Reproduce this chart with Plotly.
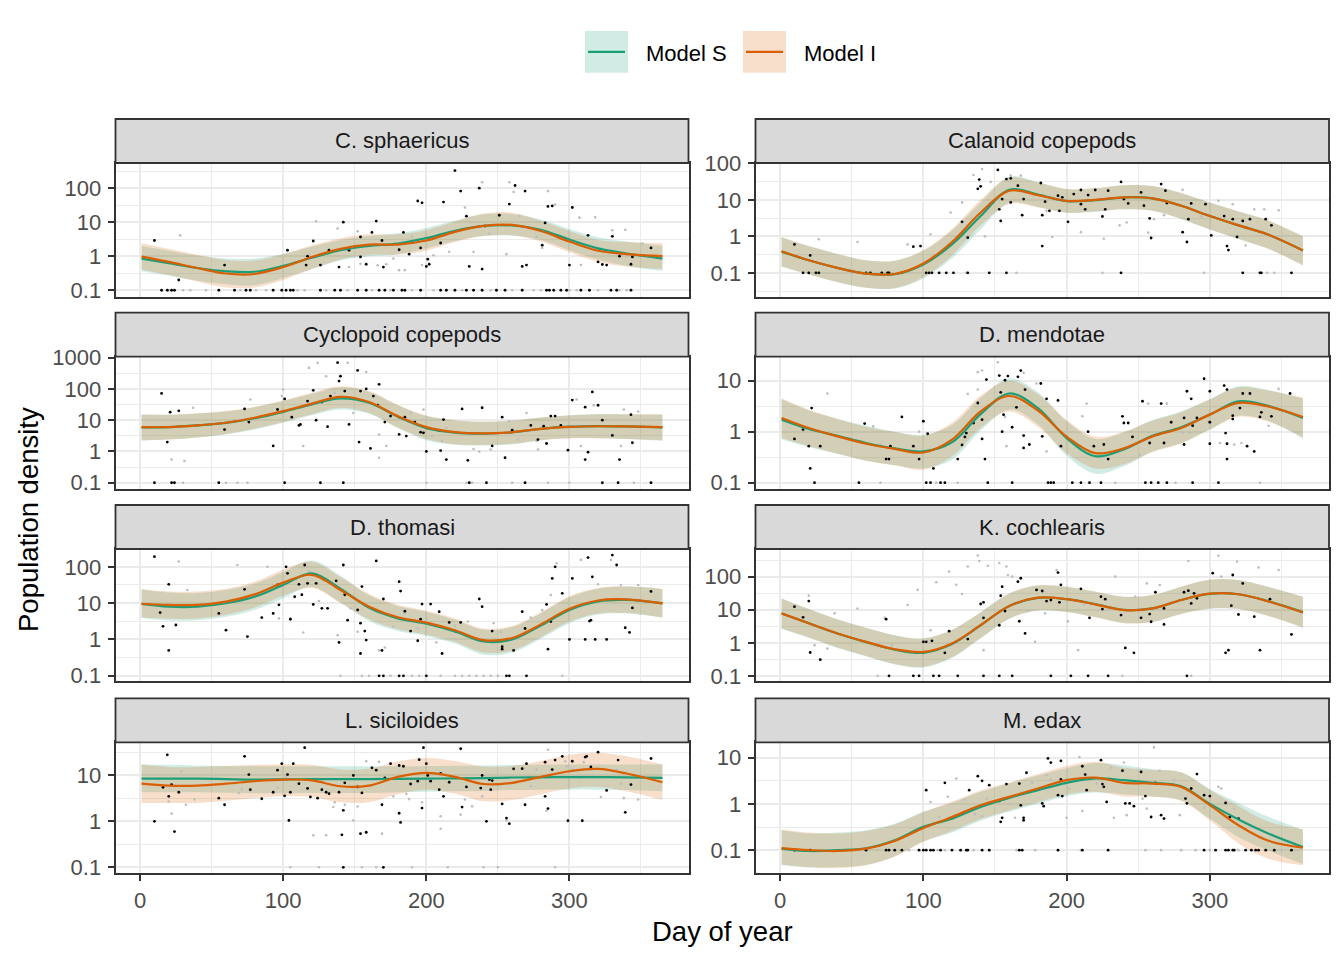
import plotly.graph_objects as go

days = [1, 20, 40, 60, 80, 100, 120, 140, 160, 180, 200, 220, 240, 260, 280, 300, 320, 340, 365]

panel_names = ["C. sphaericus", "Calanoid copepods", "Cyclopoid copepods", "D. mendotae",
               "D. thomasi", "K. cochlearis", "L. siciloides", "M. edax"]

# ---- C. sphaericus
csph_s_fit = [0.85, 0.62, 0.45, 0.36, 0.35, 0.52, 0.9, 1.5, 2.0, 2.35, 3.4, 5.6, 7.8, 8.0, 6.0, 3.1, 1.7, 1.2, 0.85]
csph_s_lo = [0.36, 0.27, 0.19, 0.15, 0.14, 0.23, 0.42, 0.75, 1.0, 1.15, 1.7, 2.8, 3.9, 4.0, 3.0, 1.5, 0.8, 0.52, 0.37]
csph_s_hi = [2.0, 1.45, 1.05, 0.85, 0.85, 1.18, 1.9, 3.0, 3.9, 4.7, 6.8, 11, 17, 17.5, 12, 6.3, 3.6, 2.7, 2.0]
csph_i_fit = [0.97, 0.68, 0.45, 0.31, 0.30, 0.48, 0.95, 1.65, 2.2, 2.2, 2.9, 5.2, 7.8, 8.3, 5.5, 2.7, 1.45, 1.15, 1.0]
csph_i_lo = [0.4, 0.28, 0.18, 0.12, 0.12, 0.2, 0.42, 0.8, 1.1, 1.1, 1.45, 2.6, 3.9, 4.1, 2.7, 1.3, 0.68, 0.5, 0.42]
csph_i_hi = [2.4, 1.65, 1.1, 0.78, 0.75, 1.15, 2.1, 3.4, 4.4, 4.4, 5.8, 10.4, 18, 19, 11, 5.5, 3.0, 2.6, 2.4]
csph_black = [(10, 2.9), (27, 0.2), (59, 0.55), (103, 1.5), (121, 2.8), (117, 1.0), (116, 0.55), (126, 0.55),
              (132, 1.5), (139, 0.48), (142, 10), (146, 1.5), (154, 0.95), (154, 3.7), (158, 0.58), (162, 5),
              (165, 10.8), (169, 2.9), (170, 0.48), (181, 1.55), (184, 5), (188, 1.15), (194, 42), (197, 37),
              (196, 1.75), (200, 0.5), (201, 0.82), (202, 0.58), (210, 2.45), (212, 39), (220, 330), (224, 82),
              (228, 15), (230, 0.5), (237, 100), (239, 0.42), (241, 7.7), (251, 16), (258, 34), (262, 120),
              (269, 82), (267, 0.5), (270, 0.55), (281, 2.1), (283, 9.5), (285, 29), (288, 30), (291, 4.1),
              (300, 0.55), (302, 27), (313, 4.1), (320, 0.68), (323, 0.57), (326, 0.55), (330, 3.85), (335, 1.0),
              (343, 0.58), (344, 0.95), (357, 1.75),
              (15, 0.1), (19, 0.1), (22, 0.1), (24, 0.1), (55, 0.1), (66, 0.1), (74, 0.1), (77, 0.1), (93, 0.1),
              (99, 0.1), (102, 0.1), (105, 0.1), (107, 0.1), (126, 0.1), (136, 0.1), (140, 0.1), (152, 0.1),
              (158, 0.1), (167, 0.1), (171, 0.1), (177, 0.1), (183, 0.1), (185, 0.1), (196, 0.1), (210, 0.1),
              (214, 0.1), (220, 0.1), (228, 0.1), (233, 0.1), (239, 0.1), (249, 0.1), (255, 0.1), (267, 0.1),
              (284, 0.1), (286, 0.1), (289, 0.1), (294, 0.1), (298, 0.1), (308, 0.1), (314, 0.1), (329, 0.1),
              (333, 0.1), (343, 0.1)]
csph_gray = [(28, 4.1), (123, 10.6), (138, 6.5), (152, 5.4), (146, 0.48), (154, 0.6), (166, 0.54), (172, 0.58),
             (177, 0.85), (181, 0.39), (185, 0.39), (190, 3.7), (197, 0.55), (205, 1.07), (216, 1.35), (227, 27),
             (233, 1.35), (239, 150), (244, 4.6), (256, 1.15), (258, 150), (261, 77), (265, 15.5), (277, 3.7),
             (281, 1.75), (285, 82), (290, 33), (307, 13.6), (308, 0.55), (318, 14), (330, 5.8), (339, 6),
             (351, 2.35),
             (20, 0.1), (30, 0.1), (35, 0.1), (46, 0.1), (70, 0.1), (81, 0.1), (88, 0.1), (110, 0.1), (115, 0.1),
             (130, 0.1), (145, 0.1), (162, 0.1), (175, 0.1), (190, 0.1), (205, 0.1), (225, 0.1), (245, 0.1),
             (260, 0.1), (275, 0.1), (280, 0.1), (300, 0.1), (305, 0.1), (320, 0.1), (335, 0.1), (340, 0.1)]

# ---- Calanoid copepods
cala_s_fit = [0.38, 0.22, 0.135, 0.095, 0.092, 0.17, 0.6, 3.6, 19, 14, 9.2, 9.8, 11.7, 11, 6.9, 3.6, 2.0, 1.14, 0.41]
cala_s_lo = [0.15, 0.09, 0.055, 0.039, 0.037, 0.07, 0.25, 1.55, 8.3, 6.4, 4.4, 4.7, 5.5, 5.0, 3.0, 1.55, 0.85, 0.47, 0.16]
cala_s_hi = [0.95, 0.54, 0.33, 0.22, 0.215, 0.4, 1.45, 8.4, 43, 31, 19.5, 20.5, 25, 24, 15.5, 8.5, 4.8, 2.8, 1.0]
cala_i_fit = [0.39, 0.22, 0.137, 0.095, 0.093, 0.18, 0.70, 4.5, 17.8, 13.5, 9.4, 10, 11.7, 11, 6.9, 3.6, 2.0, 1.14, 0.41]
cala_i_lo = [0.15, 0.09, 0.056, 0.039, 0.038, 0.075, 0.30, 2.0, 7.7, 6.2, 4.5, 4.8, 5.5, 5.0, 3.0, 1.55, 0.85, 0.47, 0.16]
cala_i_hi = [0.96, 0.54, 0.33, 0.22, 0.215, 0.42, 1.6, 10, 41, 30, 20, 21, 25, 24, 15.5, 8.5, 4.8, 2.8, 1.0]
cala_black = [(10, 0.6), (21, 0.3), (93, 0.52), (98, 0.54), (127, 2.5), (131, 0.92), (138, 20), (139, 36),
              (140, 23.5), (152, 66), (153, 5.5), (154, 2.65), (155, 10.5), (158, 37), (161, 39), (161, 8.5),
              (166, 24.5), (169, 3.8), (170, 10.5), (182, 29), (183, 0.54), (183, 3.8), (185, 8.9), (188, 5),
              (194, 13), (195, 5), (197, 11.7), (201, 2.5), (205, 14.4), (210, 18.6), (210, 7.6), (213, 5.5),
              (215, 13.5), (220, 18.6), (225, 3.5), (227, 5.5), (229, 17.8), (238, 31), (240, 10.5), (243, 8),
              (252, 16), (254, 6.9), (258, 3.1), (259, 0.9), (266, 27), (269, 17.8), (270, 8.2), (281, 1.3),
              (284, 0.7), (285, 2.95), (287, 8), (297, 7.6), (301, 1.06), (310, 3.6), (312, 0.54), (313, 0.42),
              (316, 2.95), (319, 0.96), (323, 2.65), (328, 2.95), (339, 2.95), (343, 2.0),
              (16, 0.1), (20, 0.1), (25, 0.1), (27, 0.1), (60, 0.1), (63, 0.1), (71, 0.1), (75, 0.1), (76, 0.1),
              (85, 0.1), (102, 0.1), (104, 0.1), (106, 0.1), (111, 0.1), (116, 0.1), (121, 0.1), (131, 0.1),
              (146, 0.1), (158, 0.1), (238, 0.1), (323, 0.1), (335, 0.1), (336, 0.1), (357, 0.1)]
cala_gray = [(27, 0.83), (54, 0.7), (89, 0.6), (105, 1.14), (119, 4.5), (127, 8.5), (135, 48), (141, 70),
             (143, 1.0), (146, 8), (147, 31), (161, 46), (168, 46), (190, 0.96), (186, 5), (210, 1.3),
             (226, 0.86), (237, 2), (242, 2.4), (257, 1.26), (261, 2.95), (268, 3.8), (281, 19), (294, 3.5),
             (306, 9.4), (316, 7.6), (325, 0.56), (331, 5.5), (338, 5.5), (348, 5.2),
             (50, 0.1), (66, 0.1), (90, 0.1), (130, 0.1), (165, 0.1), (225, 0.1), (296, 0.1), (340, 0.1), (345, 0.1)]

# ---- Cyclopoid copepods
cycl_s_fit = [5.9, 6.0, 6.8, 8.2, 11.5, 18.5, 32, 50, 36, 13, 5.6, 4.0, 3.7, 4.1, 5.3, 6.2, 6.5, 6.3, 5.9]
cycl_s_lo = [2.2, 2.4, 2.8, 3.5, 5.0, 8.3, 14.5, 22, 16, 5.6, 2.3, 1.65, 1.55, 1.7, 2.3, 2.7, 2.7, 2.5, 2.2]
cycl_s_hi = [15, 15, 16.5, 19, 26, 41, 70, 112, 80, 30, 13.5, 9.8, 8.8, 9.7, 12.3, 14.3, 15.7, 15.5, 15]
cycl_i_fit = [6.0, 6.0, 6.8, 8.3, 12, 19.5, 34, 56, 38, 13.5, 6.0, 4.15, 3.8, 4.15, 5.3, 6.1, 6.4, 6.3, 6.0]
cycl_i_lo = [2.3, 2.4, 2.8, 3.6, 5.3, 8.8, 15.5, 25, 17, 5.8, 2.5, 1.7, 1.6, 1.75, 2.3, 2.6, 2.6, 2.5, 2.3]
cycl_i_hi = [15.5, 15, 16.5, 19.5, 27, 43, 75, 122, 85, 31, 14, 10, 9, 9.8, 12.3, 14.2, 15.5, 15.5, 15.5]
cycl_black = [(15, 72), (19, 2.0), (21, 18), (27, 20), (59, 5.0), (73, 23), (76, 8.7), (93, 1.5), (96, 22),
              (101, 48), (106, 12.5), (111, 6.8), (112, 7.3), (117, 41), (121, 90), (123, 10), (127, 38),
              (131, 6.2), (133, 59), (138, 690), (139, 178), (140, 255), (143, 85), (146, 7.3), (152, 390),
              (153, 2), (154, 85), (158, 100), (161, 1.25), (163, 59), (166, 30), (167, 140), (171, 8.7),
              (175, 13.5), (181, 3.5), (185, 12.5), (186, 3.1), (192, 8.7), (196, 4.15), (198, 3.95), (200, 1.0),
              (209, 4.7), (210, 1.07), (212, 10.5), (214, 0.55), (225, 23), (229, 0.52), (239, 25), (246, 1.5),
              (253, 12.5), (255, 0.63), (260, 4.8), (273, 6.8), (278, 2.4), (282, 6.4), (284, 1.8), (287, 13.5),
              (290, 13.5), (294, 6.8), (299, 1.1), (302, 44), (311, 26), (311, 0.55), (313, 0.95), (316, 80),
              (320, 30), (323, 10), (330, 3.25), (335, 0.55), (343, 15), (344, 1.9),
              (10, 0.1), (22, 0.1), (24, 0.1), (55, 0.1), (101, 0.1), (126, 0.1), (142, 0.1), (230, 0.1),
              (242, 0.1), (269, 0.1), (323, 0.1), (334, 0.1), (357, 0.1)]
cycl_gray = [(22, 0.55), (31, 0.5), (37, 25), (77, 46), (99, 59), (100, 95), (114, 1.5), (118, 470), (124, 690),
             (130, 255), (136, 75), (145, 690), (149, 17), (158, 345), (167, 0.63), (167, 3.5), (172, 1.5),
             (189, 17), (198, 22), (204, 3.1), (211, 2.15), (214, 5.7), (233, 1.2), (237, 1.0), (245, 1.16),
             (258, 9.3), (264, 2.4), (270, 17), (277, 2.15), (278, 1.16), (305, 46), (308, 1.5), (317, 30),
             (336, 1.5), (338, 22), (348, 19),
             (30, 0.1), (60, 0.1), (68, 0.1), (75, 0.1), (200, 0.1), (228, 0.1), (232, 0.1), (260, 0.1),
             (285, 0.1), (300, 0.1), (345, 0.1)]

# ---- D. mendotae
dmen_s_fit = [1.72, 1.13, 0.83, 0.6, 0.47, 0.41, 0.62, 2.2, 5.6, 2.9, 0.75, 0.33, 0.45, 0.83, 1.22, 2.16, 3.95, 3.25, 1.86]
dmen_s_lo = [0.7, 0.5, 0.37, 0.27, 0.22, 0.19, 0.28, 1.05, 2.7, 1.4, 0.34, 0.15, 0.21, 0.41, 0.6, 1.1, 2.05, 1.65, 0.73]
dmen_s_hi = [4.3, 2.6, 1.8, 1.3, 1.0, 0.87, 1.35, 4.6, 11, 5.9, 1.6, 0.72, 0.96, 1.7, 2.5, 4.3, 7.8, 6.6, 4.5]
dmen_i_fit = [1.86, 1.18, 0.81, 0.58, 0.46, 0.39, 0.7, 2.5, 5.0, 2.6, 0.8, 0.38, 0.47, 0.81, 1.18, 2.16, 3.67, 3.15, 1.94]
dmen_i_lo = [0.75, 0.52, 0.37, 0.27, 0.22, 0.18, 0.33, 1.2, 2.5, 1.25, 0.38, 0.19, 0.23, 0.4, 0.58, 1.1, 1.95, 1.6, 0.78]
dmen_i_hi = [4.5, 2.7, 1.78, 1.25, 0.98, 0.84, 1.5, 5.1, 10, 5.4, 1.7, 0.8, 1.0, 1.65, 2.4, 4.3, 7.4, 6.5, 4.6]
dmen_black = [(10, 0.72), (16, 1.1), (20, 0.52), (21, 0.19), (22, 2.9), (28, 0.52), (59, 1.44), (74, 0.29),
              (76, 0.29), (77, 0.52), (85, 1.95), (93, 0.52), (97, 0.29), (100, 1.6), (103, 0.91), (107, 0.19),
              (124, 0.29), (127, 0.55), (130, 0.94), (129, 0.79), (135, 1.48), (138, 3.65), (141, 0.72),
              (141, 1.72), (143, 0.29), (144, 10.5), (153, 12.6), (154, 5.9), (155, 1.0), (156, 2.15), (157, 10.2),
              (159, 12.3), (162, 1.22), (165, 3), (166, 11.9), (168, 15.8), (170, 0.48), (170, 0.84), (171, 6.7),
              (174, 0.56), (182, 8.8), (183, 0.81), (186, 4.4), (194, 4.1), (196, 0.52), (215, 1.0), (219, 0.52),
              (226, 0.56), (229, 0.29), (239, 2.0), (240, 1.48), (243, 1.48), (246, 0.79), (253, 3.95), (258, 0.6),
              (266, 3.55), (268, 0.6), (273, 1.53), (282, 0.56), (282, 1.86), (284, 6.2), (287, 4.4), (288, 1.31),
              (291, 1.86), (296, 10.9), (300, 0.58), (300, 1.53), (300, 6.2), (310, 8.0), (311, 0.94), (312, 0.58),
              (312, 0.29), (312, 6.7), (316, 2.06), (316, 1.77), (321, 2.9), (323, 5.6), (326, 0.52), (328, 5.6),
              (331, 0.41), (335, 1.95), (336, 2.4), (343, 2.0), (356, 5.6),
              (24, 0.1), (55, 0.1), (102, 0.1), (105, 0.1), (112, 0.1), (115, 0.1), (145, 0.1), (162, 0.1),
              (187, 0.1), (189, 0.1), (191, 0.1), (204, 0.1), (210, 0.1), (216, 0.1), (224, 0.1), (255, 0.1),
              (259, 0.1), (264, 0.1), (270, 0.1), (288, 0.1), (306, 0.1)]
dmen_gray = [(33, 5.6), (65, 1.27), (70, 0.56), (97, 1.0), (131, 5.5), (138, 6.7), (138, 14.7), (141, 15.8),
             (152, 23), (157, 1.95), (158, 0.52), (170, 14.3), (179, 8.8), (186, 0.41), (211, 2.0), (214, 3.55),
             (251, 0.35), (257, 3.55), (270, 3.55), (281, 0.94), (286, 0.94), (299, 1.6), (300, 2.4), (307, 0.6),
             (317, 0.56), (322, 0.6), (341, 1.31), (348, 6.9),
             (70, 0.1), (109, 0.1), (124, 0.1), (234, 0.1), (276, 0.1), (335, 0.1)]

# ---- D. thomasi
dtho_s_fit = [9.5, 8.0, 8.0, 9.9, 15, 31.6, 66, 25, 7.4, 3.8, 2.7, 1.65, 0.88, 1.0, 2.4, 6.5, 11.2, 12.3, 9.8]
dtho_s_lo = [3.9, 3.3, 3.4, 4.2, 6.5, 13.5, 28, 10.5, 3.2, 1.7, 1.25, 0.77, 0.38, 0.44, 1.05, 2.8, 4.9, 5.2, 4.0]
dtho_s_hi = [24, 19.5, 19, 23, 34, 72, 150, 57, 16.5, 8.4, 5.8, 3.5, 1.85, 2.2, 5.3, 14.5, 25, 28.5, 24.5]
dtho_i_fit = [9.6, 8.9, 8.9, 11, 17.4, 36.7, 60, 23, 8.0, 4.1, 2.9, 1.8, 0.96, 1.1, 2.6, 7.0, 11.8, 12.7, 9.8]
dtho_i_lo = [4.0, 3.7, 3.8, 4.8, 7.6, 16, 26, 10, 3.6, 1.9, 1.35, 0.85, 0.44, 0.5, 1.15, 3.1, 5.2, 5.4, 4.0]
dtho_i_hi = [24, 21, 21, 25, 39, 83, 138, 52, 17.7, 9, 6.2, 3.8, 2.0, 2.35, 5.6, 15.5, 26, 29, 24.5]
dtho_black = [(10, 190), (20, 33), (20, 0.5), (14, 5.5), (16, 2.3), (25, 2.5), (55, 5.2), (60, 1.8), (75, 1.2),
              (73, 24), (85, 4.0), (93, 5.2), (96, 31.6), (97, 9), (102, 100), (103, 66), (105, 3.6), (108, 15),
              (111, 33), (113, 17), (115, 112), (117, 35), (121, 9.2), (123, 35), (127, 7.2), (131, 7.2),
              (137, 41), (139, 0.83), (142, 112), (143, 17), (145, 3.4), (152, 6.5), (154, 2.8), (154, 0.41),
              (155, 28.5), (157, 1.7), (158, 0.96), (165, 145), (169, 0.5), (170, 13), (181, 39), (182, 21.5),
              (185, 6), (189, 1.7), (194, 0.92), (196, 3.6), (197, 9.4), (203, 9.4), (209, 5.8), (211, 0.41),
              (216, 2.95), (220, 1.7), (224, 2.95), (237, 13), (239, 8), (246, 1.7), (253, 0.54), (253, 0.63),
              (261, 0.5), (267, 5.8), (269, 2.0), (284, 9.2), (285, 0.54), (287, 3.1), (288, 48), (290, 100),
              (295, 18.6), (300, 1.0), (302, 48), (311, 1.0), (313, 180), (314, 3.2), (315, 3.4), (316, 53),
              (318, 1.0), (326, 1.0), (330, 210), (333, 112), (339, 2.1), (342, 1.56), (344, 7.4), (357, 21),
              (167, 0.1), (170, 0.1), (181, 0.1), (184, 0.1), (200, 0.1), (256, 0.1), (258, 0.1), (270, 0.1)]
dtho_gray = [(27, 140), (33, 23), (68, 112), (89, 100), (97, 3.8), (105, 3.8), (114, 1.56), (118, 74), (125, 11.4),
             (128, 41), (138, 1.3), (147, 7.2), (152, 1.63), (167, 0.5), (171, 0.6), (177, 2.24), (185, 5.2),
             (194, 2.0), (200, 3.8), (207, 0.83), (220, 2.4), (229, 3.1), (247, 2.8), (252, 1.6), (273, 4.0),
             (281, 6.4), (287, 16.7), (291, 125), (308, 155), (320, 33), (329, 155), (336, 31.6), (348, 31.6),
             (140, 0.1), (155, 0.1), (160, 0.1), (175, 0.1), (190, 0.1), (195, 0.1), (210, 0.1), (220, 0.1),
             (225, 0.1), (230, 0.1), (235, 0.1), (240, 0.1), (245, 0.1), (250, 0.1), (295, 0.1)]

# ---- K. cochlearis
kcoc_s_fit = [7.7, 3.9, 1.92, 1.05, 0.62, 0.5, 0.92, 3.4, 13, 23, 21, 14.8, 9.9, 11.0, 19.8, 30.5, 29.5, 18.6, 8.5]
kcoc_s_lo = [2.6, 1.42, 0.7, 0.39, 0.22, 0.18, 0.35, 1.38, 5.4, 9.5, 8.6, 6.0, 4.0, 4.3, 7.5, 10.8, 10.5, 6.7, 2.9]
kcoc_s_hi = [22, 10.6, 5.2, 2.85, 1.7, 1.38, 2.45, 8.4, 31, 54, 50, 36, 25, 28, 50, 81, 80, 51, 25]
kcoc_i_fit = [7.8, 3.9, 1.92, 1.07, 0.64, 0.53, 0.96, 3.44, 13, 23.3, 21, 14.6, 9.8, 11.0, 19.8, 30.9, 29.5, 18.4, 8.3]
kcoc_i_lo = [2.7, 1.45, 0.72, 0.4, 0.23, 0.19, 0.37, 1.4, 5.4, 9.6, 8.6, 5.9, 3.9, 4.3, 7.5, 11, 10.5, 6.6, 2.85]
kcoc_i_hi = [22, 10.5, 5.1, 2.85, 1.68, 1.36, 2.5, 8.5, 31, 55, 50, 35, 25, 28, 50, 82, 80, 50, 25]
kcoc_black = [(10, 12.4), (16, 5.9), (20, 18.4), (21, 0.51), (28, 0.31), (74, 5.2), (100, 1.07), (102, 1.07),
              (106, 1.15), (115, 0.5), (118, 2.26), (131, 1.3), (140, 15), (142, 16.8), (142, 5.7), (153, 3.4),
              (154, 26.8), (155, 50), (157, 9.2), (166, 71), (167, 4.5), (168, 90), (171, 1.92), (179, 40),
              (183, 37), (186, 18.4), (189, 19.8), (194, 134), (195, 16.8), (196, 57), (210, 43), (216, 5.7),
              (224, 25), (225, 10.5), (227, 21), (238, 6.9), (241, 0.7), (247, 0.5), (252, 5.7), (258, 7.4),
              (259, 4.35), (262, 34), (268, 3.6), (268, 11), (282, 34), (285, 38), (287, 15.6), (289, 31.6),
              (291, 22.3), (302, 128), (311, 0.5), (313, 0.6), (315, 13.3), (316, 113), (320, 7.2), (323, 63),
              (331, 6.2), (335, 0.6), (342, 21), (357, 1.8),
              (76, 0.1), (93, 0.1), (97, 0.1), (107, 0.1), (111, 0.1), (124, 0.1), (142, 0.1), (153, 0.1),
              (162, 0.1), (189, 0.1), (203, 0.1), (215, 0.1), (229, 0.1), (284, 0.1)]
kcoc_gray = [(11, 5.5), (20, 26.8), (24, 0.85), (33, 0.67), (38, 7.8), (54, 11), (73, 5.7), (78, 0.85), (89, 14),
             (96, 40), (105, 2.4), (109, 68), (118, 143), (123, 57), (127, 30), (131, 205), (138, 440), (139, 300),
             (142, 0.6), (145, 215), (153, 260), (158, 205), (159, 113), (162, 101), (173, 9.2), (178, 1.07),
             (185, 7.8), (193, 160), (201, 4.5), (208, 0.6), (212, 14), (229, 11), (234, 101), (248, 25),
             (256, 63), (265, 56), (285, 300), (306, 430), (308, 101), (319, 290), (334, 190), (348, 160),
             (68, 0.1), (239, 0.1), (287, 0.1)]

# ---- L. siciloides
lsic_s_fit = [8.5, 8.5, 8.5, 8.3, 8.1, 8.2, 8.3, 8.3, 8.3, 8.4, 8.5, 8.6, 8.7, 9.0, 9.1, 9.2, 9.2, 9.1, 8.8]
lsic_s_lo = [4.3, 4.3, 4.3, 4.2, 4.1, 4.1, 4.15, 4.15, 4.15, 4.3, 4.4, 4.5, 4.6, 4.8, 4.9, 4.9, 4.9, 4.8, 4.5]
lsic_s_hi = [17.2, 17, 16.5, 16, 15.8, 15.8, 15.8, 15.8, 15.8, 15.8, 16, 16.2, 16.5, 16.8, 17, 17.2, 17.2, 17.2, 17.2]
lsic_i_fit = [6.6, 6.0, 6.0, 6.6, 7.5, 8.1, 7.8, 5.8, 6.0, 9.3, 11.4, 9.3, 6.5, 6.9, 9.3, 12.3, 13.8, 11, 7.1]
lsic_i_lo = [2.5, 2.5, 2.5, 2.8, 3.2, 3.5, 3.4, 2.6, 2.6, 3.9, 4.9, 4.0, 2.75, 2.9, 3.9, 5.2, 5.6, 4.5, 2.9]
lsic_i_hi = [17.2, 15.3, 15.3, 16, 17, 17.5, 17, 13.5, 14, 20, 24, 20.5, 15.6, 16, 20.5, 28, 31, 26, 17.2]
lsic_black = [(10, 1.0), (16, 5.5), (19, 28), (20, 3.5), (22, 6.3), (24, 0.6), (27, 4.3), (55, 3.2), (59, 2.3),
              (73, 26), (76, 10.4), (77, 4.9), (85, 3.1), (93, 4.3), (96, 13), (99, 18), (101, 3.6), (103, 10.4),
              (104, 1.05), (105, 4.3), (107, 18), (111, 6.6), (115, 40), (117, 5.2), (119, 3.4), (124, 3.2),
              (127, 4.9), (130, 4.3), (132, 4.0), (139, 4.3), (141, 0.51), (142, 1.74), (143, 6.9), (149, 10),
              (152, 5.6), (154, 0.54), (155, 4.15), (158, 0.58), (162, 14.6), (165, 13), (169, 2.3), (171, 8.8),
              (175, 18), (181, 16.4), (181, 1.5), (182, 0.95), (184, 15.8), (189, 6.5), (194, 7.5), (195, 22),
              (197, 1.95), (198, 40), (200, 18), (201, 10), (203, 7.5), (209, 4.9), (210, 11), (212, 3.5),
              (216, 7.1), (224, 38), (225, 2.05), (228, 8.4), (228, 5.6), (238, 5.3), (239, 10), (242, 1.0),
              (244, 8.1), (245, 4.9), (246, 7.7), (253, 2.4), (256, 1.18), (258, 0.89), (261, 13.9), (267, 14),
              (269, 2.3), (270, 18), (283, 3.5), (283, 19.4), (285, 1.9), (288, 13.4), (290, 21.5), (295, 26),
              (299, 1.03), (302, 20.3), (309, 1.03), (311, 25), (312, 26), (315, 15.3), (320, 32), (326, 4.7),
              (334, 21.5), (339, 1.57), (343, 6.3), (357, 23.3),
              (142, 0.1), (170, 0.1)]
lsic_gray = [(13, 8.1), (20, 2.7), (22, 1.47), (29, 12.3), (32, 2.3), (38, 3.0), (69, 4.15), (71, 5.1), (96, 5.3),
             (102, 9.3), (121, 0.5), (130, 0.5), (135, 2.05), (136, 2.6), (143, 2.3), (149, 1.05), (152, 2.1),
             (158, 0.56), (158, 20.4), (161, 5.8), (167, 19.7), (169, 0.54), (177, 3.5), (186, 4.0), (188, 3.05),
             (197, 2.6), (210, 1.29), (210, 0.69), (224, 1.4), (227, 3.0), (232, 2.12), (239, 3.5), (256, 1.05),
             (273, 5.8), (277, 13.4), (284, 1.7), (285, 36), (297, 20.3), (298, 15.8), (302, 13.4), (308, 8.8),
             (310, 19.4), (322, 3.4), (333, 13.4), (336, 6.6), (338, 3.2), (348, 3.0),
             (105, 0.1), (125, 0.1), (155, 0.1), (165, 0.1), (190, 0.1), (215, 0.1), (240, 0.1), (250, 0.1),
             (290, 0.1)]

# ---- M. edax
meda_s_fit = [0.108, 0.096, 0.1, 0.11, 0.163, 0.32, 0.48, 0.86, 1.35, 1.98, 2.85, 3.54, 3.25, 2.85, 2.4, 1.0, 0.46, 0.235, 0.117]
meda_s_lo = [0.047, 0.042, 0.043, 0.048, 0.074, 0.155, 0.24, 0.43, 0.68, 1.0, 1.45, 1.75, 1.62, 1.45, 1.2, 0.48, 0.19, 0.1, 0.05]
meda_s_hi = [0.27, 0.23, 0.24, 0.27, 0.37, 0.68, 1.05, 1.82, 2.8, 4.1, 5.9, 7.6, 6.8, 5.6, 4.8, 2.1, 1.05, 0.54, 0.28]
meda_i_fit = [0.111, 0.1, 0.096, 0.108, 0.158, 0.3, 0.52, 0.93, 1.42, 2.15, 3.25, 3.7, 2.85, 2.75, 2.33, 0.94, 0.345, 0.163, 0.113]
meda_i_lo = [0.049, 0.043, 0.041, 0.047, 0.072, 0.15, 0.26, 0.47, 0.72, 1.08, 1.6, 1.82, 1.45, 1.42, 1.15, 0.44, 0.14, 0.067, 0.047]
meda_i_hi = [0.28, 0.24, 0.23, 0.26, 0.36, 0.66, 1.12, 1.95, 2.9, 4.4, 6.6, 8.1, 6.0, 5.4, 4.8, 2.0, 0.9, 0.42, 0.28]
meda_black = [(102, 1.98), (115, 2.85), (121, 0.5), (132, 1.98), (138, 3.97), (141, 3.15), (146, 2.54), (153, 1.16),
              (154, 0.41), (155, 0.5), (158, 2.67), (167, 2.75), (168, 0.93), (170, 0.44), (170, 0.5), (172, 4.7),
              (183, 1.02), (184, 0.89), (187, 9.6), (189, 7.8), (196, 8.5), (194, 1.54), (196, 3.37), (197, 1.47),
              (211, 6.5), (213, 4.3), (214, 1.98), (224, 8.8), (225, 2.67), (226, 2.33), (228, 1.1), (239, 5.2),
              (241, 1.02), (244, 1.02), (247, 0.89), (252, 4.9), (255, 1.47), (259, 0.52), (262, 2.85), (266, 0.57),
              (268, 0.48), (283, 1.3), (284, 1.02), (287, 2.15), (291, 4.4), (296, 1.54), (300, 1.47), (311, 1.05),
              (314, 0.52), (320, 0.48),
              (10, 0.1), (21, 0.1), (60, 0.1), (74, 0.1), (76, 0.1), (80, 0.1), (85, 0.1), (97, 0.1), (100, 0.1),
              (102, 0.1), (105, 0.1), (107, 0.1), (112, 0.1), (120, 0.1), (126, 0.1), (130, 0.1), (131, 0.1),
              (141, 0.1), (146, 0.1), (167, 0.1), (169, 0.1), (194, 0.1), (211, 0.1), (229, 0.1), (296, 0.1),
              (304, 0.1), (311, 0.1), (313, 0.1), (316, 0.1), (317, 0.1), (325, 0.1), (329, 0.1), (332, 0.1),
              (334, 0.1), (339, 0.1), (345, 0.1), (357, 0.1)]
meda_gray = [(105, 1.1), (111, 0.52), (117, 1.42), (123, 3.54), (129, 1.24), (136, 0.6), (141, 0.54), (144, 1.3),
             (160, 0.98), (164, 0.5), (176, 2.85), (186, 4.2), (189, 3.37), (200, 0.5), (202, 2.15), (209, 10.3),
             (211, 0.7), (221, 2.75), (231, 6.1), (233, 0.5), (240, 7.8), (242, 0.57), (253, 1.3), (256, 0.79),
             (261, 16.6), (265, 5.2), (275, 3.26), (279, 0.57), (296, 0.83), (306, 2.33), (308, 2.15), (317, 0.79),
             (90, 0.1), (110, 0.1), (115, 0.1), (135, 0.1), (165, 0.1), (178, 0.1), (210, 0.1), (255, 0.1),
             (266, 0.1), (280, 0.1), (290, 0.1), (300, 0.1), (320, 0.1), (350, 0.1), (360, 0.1)]

panels = [
    (csph_s_lo, csph_s_fit, csph_s_hi, csph_i_lo, csph_i_fit, csph_i_hi, csph_black, csph_gray),
    (cala_s_lo, cala_s_fit, cala_s_hi, cala_i_lo, cala_i_fit, cala_i_hi, cala_black, cala_gray),
    (cycl_s_lo, cycl_s_fit, cycl_s_hi, cycl_i_lo, cycl_i_fit, cycl_i_hi, cycl_black, cycl_gray),
    (dmen_s_lo, dmen_s_fit, dmen_s_hi, dmen_i_lo, dmen_i_fit, dmen_i_hi, dmen_black, dmen_gray),
    (dtho_s_lo, dtho_s_fit, dtho_s_hi, dtho_i_lo, dtho_i_fit, dtho_i_hi, dtho_black, dtho_gray),
    (kcoc_s_lo, kcoc_s_fit, kcoc_s_hi, kcoc_i_lo, kcoc_i_fit, kcoc_i_hi, kcoc_black, kcoc_gray),
    (lsic_s_lo, lsic_s_fit, lsic_s_hi, lsic_i_lo, lsic_i_fit, lsic_i_hi, lsic_black, lsic_gray),
    (meda_s_lo, meda_s_fit, meda_s_hi, meda_i_lo, meda_i_fit, meda_i_hi, meda_black, meda_gray),
]

# log10 y-ranges of each facet (free scales)
y_ranges = [[-1.19, 2.74], [-1.655, 2.01], [-1.2, 3.03], [-1.124, 1.47],
            [-1.13, 2.49], [-1.14, 2.84], [-1.13, 1.72], [-1.5, 1.33]]

y_ticks = [0.1, 1, 10, 100, 1000]
y_ticktext = ["0.1", "1", "10", "100", "1000"]
y_minor = [0.0316228, 0.316228, 3.16228, 31.6228, 316.228]
x_ticks = [0, 100, 200, 300]
x_minor = [50, 150, 250, 350]

TEAL = "#1B9E77"
ORANGE = "#D95F02"
TEAL_FILL = "rgba(27,158,119,0.2)"
ORANGE_FILL = "rgba(217,95,2,0.2)"
FONT = "Liberation Sans, Arial, sans-serif"

# the page body adds an 8px margin, so the figure is a bit smaller and
# positions below are screen pixels shifted by that offset
OFF = 8
W, H = 1344 - OFF, 960 - OFF


def px(xs):
    return (xs - OFF) / W


def py(ys):
    return 1 - (ys - OFF) / H


col_x = [(115.5, 688.5), (755.5, 1329.0)]
row_top = [163.0, 356.7, 549.0, 742.3]
row_bot = [296.7, 489.0, 680.5, 873.3]
strip_h = 44

fig = go.Figure()
shapes = []
annotations = []
layout_axes = {}

for i, (s_lo, s_fit, s_hi, i_lo, i_fit, i_hi, black, gray) in enumerate(panels):
    r, c = divmod(i, 2)
    sfx = "" if i == 0 else str(i + 1)
    xa, ya = "x" + sfx, "y" + sfx
    common = dict(xaxis=xa, yaxis=ya, showlegend=False, hoverinfo="skip")

    # ribbons
    for lo, hi, fill in [(s_lo, s_hi, TEAL_FILL), (i_lo, i_hi, ORANGE_FILL)]:
        fig.add_trace(go.Scatter(x=days, y=lo, mode="lines", line=dict(width=0, shape="spline"), **common))
        fig.add_trace(go.Scatter(x=days, y=hi, mode="lines", line=dict(width=0, shape="spline"),
                                 fill="tonexty", fillcolor=fill, **common))
    # observations
    fig.add_trace(go.Scatter(x=[p[0] for p in gray], y=[p[1] for p in gray], mode="markers",
                             marker=dict(size=2.6, color="#BDBDBD"), **common))
    fig.add_trace(go.Scatter(x=[p[0] for p in black], y=[p[1] for p in black], mode="markers",
                             marker=dict(size=2.8, color="black"), **common))
    # fitted curves
    fig.add_trace(go.Scatter(x=days, y=s_fit, mode="lines", line=dict(color=TEAL, width=2.2, shape="spline"), **common))
    fig.add_trace(go.Scatter(x=days, y=i_fit, mode="lines", line=dict(color=ORANGE, width=2.2, shape="spline"), **common))

    x0, x1 = col_x[c]
    bottom = r == 3
    layout_axes["xaxis" + sfx] = dict(
        domain=[px(x0), px(x1)], range=[-17.2, 383.2], anchor=ya, automargin=False,
        tickvals=x_ticks, showticklabels=bottom, ticks="outside" if bottom else "",
        ticklen=6, tickwidth=1.8, tickcolor="#333333",
        tickfont=dict(family=FONT, size=22, color="#4D4D4D"),
        showgrid=True, gridcolor="#EBEBEB", gridwidth=1.7,
        minor=dict(tickvals=x_minor, showgrid=True, gridcolor="#EBEBEB", gridwidth=0.9),
        showline=True, mirror=True, linecolor="#333333", linewidth=1.8, zeroline=False)
    layout_axes["yaxis" + sfx] = dict(
        type="log", domain=[py(row_bot[r]), py(row_top[r])], range=y_ranges[i], anchor=xa, automargin=False,
        tickvals=y_ticks, ticktext=y_ticktext, ticks="outside",
        ticklen=6, tickwidth=1.8, tickcolor="#333333", ticklabelstandoff=2,
        tickfont=dict(family=FONT, size=22, color="#4D4D4D"),
        showgrid=True, gridcolor="#EBEBEB", gridwidth=1.7,
        minor=dict(tickvals=y_minor, showgrid=True, gridcolor="#EBEBEB", gridwidth=0.9),
        showline=True, mirror=True, linecolor="#333333", linewidth=1.8, zeroline=False)

    # facet strip
    st, sb = row_top[r] - strip_h, row_top[r]
    shapes.append(dict(type="rect", xref="paper", yref="paper", x0=px(x0), x1=px(x1),
                       y0=py(sb), y1=py(st), fillcolor="#D9D9D9",
                       line=dict(color="#333333", width=1.8), layer="above"))
    annotations.append(dict(text=panel_names[i], xref="paper", yref="paper", x=px((x0 + x1) / 2),
                            y=py((st + sb) / 2), showarrow=False, xanchor="center", yanchor="middle",
                            font=dict(family=FONT, size=22, color="#1A1A1A")))

# legend drawn by hand (ggplot style keys)
legend_items = [("Model S", TEAL, TEAL_FILL, 585), ("Model I", ORANGE, ORANGE_FILL, 743)]
for label, col, fill, kx in legend_items:
    shapes.append(dict(type="rect", xref="paper", yref="paper", x0=px(kx), x1=px(kx + 43),
                       y0=py(72.7), y1=py(31), fillcolor=fill, line=dict(width=0)))
    shapes.append(dict(type="line", xref="paper", yref="paper", x0=px(kx + 3), x1=px(kx + 40),
                       y0=py(51.8), y1=py(51.8), line=dict(color=col, width=2.2)))
    annotations.append(dict(text=label, xref="paper", yref="paper", x=px(kx + 59), y=py(53),
                            showarrow=False, xanchor="left", yanchor="middle",
                            font=dict(family=FONT, size=22, color="black")))

annotations.append(dict(text="Population density", xref="paper", yref="paper", x=px(28), y=py(520),
                        textangle=-90, showarrow=False, xanchor="center", yanchor="middle",
                        font=dict(family=FONT, size=27.5, color="black")))
annotations.append(dict(text="Day of year", xref="paper", yref="paper", x=px(722), y=py(931),
                        showarrow=False, xanchor="center", yanchor="middle",
                        font=dict(family=FONT, size=27.5, color="black")))

fig.update_layout(width=W, height=H, margin=dict(l=0, r=0, t=0, b=0),
                  plot_bgcolor="white", paper_bgcolor="white", showlegend=False,
                  shapes=shapes, annotations=annotations, **layout_axes)

fig.write_html("out.html")
